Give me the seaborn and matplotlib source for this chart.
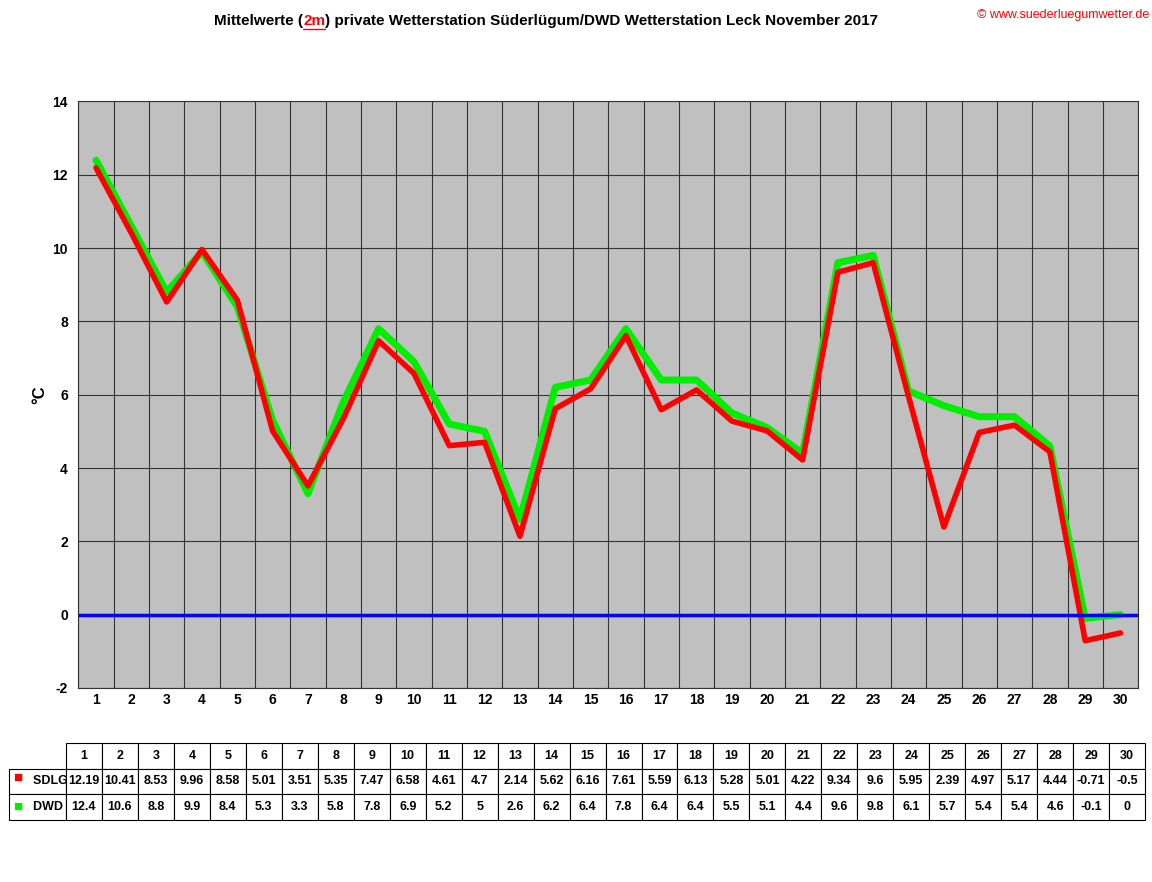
import numpy as np
import pandas as pd
import seaborn as sns
import matplotlib.pyplot as plt

days = list(range(1, 31))
sdlg = [12.19, 10.41, 8.53, 9.96, 8.58, 5.01, 3.51, 5.35, 7.47, 6.58, 4.61, 4.7, 2.14, 5.62, 6.16,
        7.61, 5.59, 6.13, 5.28, 5.01, 4.22, 9.34, 9.6, 5.95, 2.39, 4.97, 5.17, 4.44, -0.71, -0.5]
dwd = [12.4, 10.6, 8.8, 9.9, 8.4, 5.3, 3.3, 5.8, 7.8, 6.9, 5.2, 5, 2.6, 6.2, 6.4,
       7.8, 6.4, 6.4, 5.5, 5.1, 4.4, 9.6, 9.8, 6.1, 5.7, 5.4, 5.4, 4.6, -0.1, 0]
sdlg_lbl = ["12.19", "10.41", "8.53", "9.96", "8.58", "5.01", "3.51", "5.35", "7.47", "6.58", "4.61", "4.7",
            "2.14", "5.62", "6.16", "7.61", "5.59", "6.13", "5.28", "5.01", "4.22", "9.34", "9.6", "5.95",
            "2.39", "4.97", "5.17", "4.44", "-0.71", "-0.5"]
dwd_lbl = ["12.4", "10.6", "8.8", "9.9", "8.4", "5.3", "3.3", "5.8", "7.8", "6.9", "5.2", "5", "2.6",
           "6.2", "6.4", "7.8", "6.4", "6.4", "5.5", "5.1", "4.4", "9.6", "9.8", "6.1", "5.7", "5.4",
           "5.4", "4.6", "-0.1", "0"]

df = pd.DataFrame({"Tag": days, "SDLG": sdlg, "DWD": dwd})

sns.set_style("white")
plt.rcParams['font.family'] = ['Liberation Sans', 'DejaVu Sans']
plt.rcParams['font.weight'] = 'bold'
plt.rcParams['text.color'] = 'black'
plt.rcParams['axes.labelcolor'] = 'black'
plt.rcParams['xtick.color'] = 'black'
plt.rcParams['ytick.color'] = 'black'

fig = plt.figure(figsize=(11.52, 8.82), dpi=100)
ax = fig.add_axes([0.068, 0.22, 0.92, 0.665])
ax.set_facecolor('#c0c0c0')

sns.lineplot(data=df, x="Tag", y="DWD", color='#00ee00', lw=5, ax=ax)
sns.lineplot(data=df, x="Tag", y="SDLG", color='#ff0000', lw=4, ax=ax)
ax.axhline(0, color='blue', lw=2.5)

ax.set_xlim(0.5, 30.5)
ax.set_ylim(-2, 14)
ax.set_yticks(range(-2, 15, 2))
ax.set_yticklabels([str(v) for v in range(-2, 15, 2)])
ax.set_xticks(days)
ax.set_xticks(np.arange(0.5, 31, 1), minor=True)
ax.grid(True, which='minor', axis='x', color='#333333', lw=0.8)
ax.grid(True, which='major', axis='y', color='#333333', lw=0.8)
ax.tick_params(axis='x', which='major', length=0, labelsize=10)
ax.tick_params(axis='y', labelsize=10, length=4)
for s in ax.spines.values():
    s.set_color('#333333')
ax.set_xlabel("")
ax.set_ylabel("°C", fontsize=12, fontweight='bold')

# Titel, Teile nacheinander gesetzt
fig.canvas.draw()
r = fig.canvas.get_renderer()
x = 0.186
for part, col in [("Mittelwerte (", "black"), ("2m", "red"),
                  (") private Wetterstation Süderlügum/DWD Wetterstation Leck November 2017", "black")]:
    t = fig.text(x, 0.972, part, fontsize=11, fontweight='bold', color=col, ha='left')
    bb = t.get_window_extent(r)
    if col == "red":
        fig.add_artist(plt.Line2D([x, x + bb.width / fig.bbox.width], [0.967, 0.967],
                                  color='red', lw=1, transform=fig.transFigure))
    x += bb.width / fig.bbox.width
fig.text(0.998, 0.99, "© www.suederluegumwetter.de", fontsize=9, color='red', ha='right', va='top',
         fontweight='normal')

# Tabelle
tax = fig.add_axes([0.008, 0.07, 0.986, 0.088])
tax.axis('off')
cells = [[""] + [str(d) for d in days], ["      SDLG"] + sdlg_lbl, ["      DWD"] + dwd_lbl]
tbl = tax.table(cellText=cells, bbox=[0, 0, 1, 1], cellLoc='center',
                colWidths=[0.05] + [0.95 / 30] * 30)
tbl.auto_set_font_size(False)
tbl.set_fontsize(9)
for (rr, c), cell in tbl.get_celld().items():
    cell.set_linewidth(0.8)
    cell.get_text().set_fontweight('bold')
    if rr == 0 and c == 0:
        cell.set_edgecolor('white')
    if c == 0 and rr > 0:
        cell.get_text().set_ha('left')
        cell.PAD = 0.05
fig.text(0.0115, 0.1185, "■", color='red', fontsize=11, va='center')
fig.text(0.0115, 0.0855, "■", color='#00ee00', fontsize=11, va='center')

fig.savefig("out.png", dpi=100)
